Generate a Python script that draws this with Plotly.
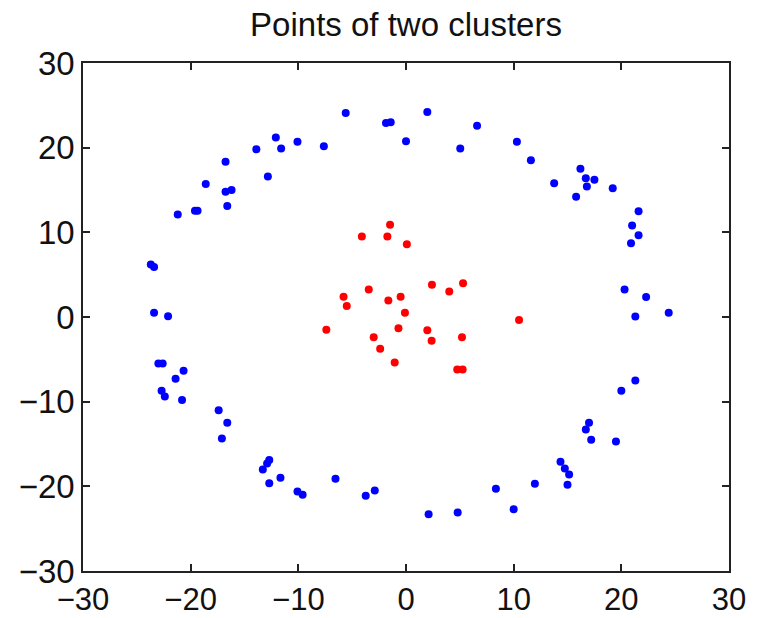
import plotly.graph_objects as go

# Outer cluster (blue)
blue_x = [-5.6, -1.86, -1.42, 0.0, -12.09, -13.9, -11.6, -10.08, -7.63, -16.76,
          -12.83, -18.6, -16.76, -16.2, -16.6, -21.2, -19.6, -19.36, -23.7, -23.4,
          -23.4, -22.1,
          1.98, 6.6, 5.04, 10.3, 11.6, 13.76, 16.2, 16.7, 17.5, 16.8,
          15.8, 19.2, 21.6, 21.0, 21.6, 20.9, 20.3, 22.3, 21.3, 24.4,
          -23.0, -22.6, -20.66, -21.4, -22.7, -22.4, -20.8, -17.4, -16.6, -17.1,
          -12.7, -12.9, -13.3, -12.7, -11.66, -10.08, -9.6, -6.55, -3.74, -2.9,
          21.3, 20.0, 17.0, 16.7, 17.2, 19.5, 14.35, 14.75, 15.15, 15.0,
          11.97, 8.35, 10.0, 2.1, 4.8]
blue_y = [24.1, 22.9, 23.0, 20.75, 21.2, 19.8, 19.9, 20.7, 20.16, 18.35,
          16.6, 15.7, 14.8, 15.0, 13.1, 12.1, 12.55, 12.55, 6.2, 5.9,
          0.5, 0.1,
          24.2, 22.6, 19.9, 20.7, 18.5, 15.8, 17.5, 16.4, 16.2, 15.4,
          14.2, 15.2, 12.5, 10.8, 9.65, 8.7, 3.26, 2.35, 0.05, 0.5,
          -5.5, -5.5, -6.35, -7.3, -8.7, -9.4, -9.8, -11.0, -12.5, -14.35,
          -16.9, -17.3, -18.0, -19.65, -19.0, -20.6, -21.0, -19.1, -21.1, -20.5,
          -7.5, -8.7, -12.5, -13.3, -14.5, -14.7, -17.1, -17.9, -18.6, -19.8,
          -19.7, -20.3, -22.7, -23.3, -23.1]

# Inner cluster (red)
red_x = [-1.48, -1.73, -4.1, 0.08, -3.46, -5.8, -5.5, -1.64, -0.5, -0.1,
         2.41, 4.02, 5.3, 10.5,
         -7.4, -3.0, -2.4, -1.05, -0.7,
         1.98, 2.38, 5.2, 4.76, 5.26]
red_y = [10.9, 9.5, 9.5, 8.6, 3.26, 2.4, 1.3, 1.96, 2.4, 0.5,
         3.8, 3.0, 4.0, -0.35,
         -1.5, -2.4, -3.76, -5.37, -1.33,
         -1.56, -2.8, -2.4, -6.2, -6.2]

tick_vals = [-30, -20, -10, 0, 10, 20, 30]

fig = go.Figure()
fig.add_trace(go.Scatter(x=blue_x, y=blue_y, mode="markers",
                         marker=dict(color="#0000FF", size=8, line=dict(width=0)),
                         showlegend=False))
fig.add_trace(go.Scatter(x=red_x, y=red_y, mode="markers",
                         marker=dict(color="#FF0000", size=8, line=dict(width=0)),
                         showlegend=False))

font_family = "Liberation Sans, Arial, sans-serif"
axis_common = dict(
    tickvals=tick_vals,
    showgrid=False, zeroline=False, automargin=False,
    showline=True, linecolor="#222222", linewidth=1.5,
    mirror="ticks", ticks="inside", ticklen=7, tickwidth=1.5, tickcolor="#222222",
)

fig.update_layout(
    width=757, height=618,
    paper_bgcolor="white", plot_bgcolor="white",
    margin=dict(l=83, r=28, t=63, b=47),
    title=dict(text="Points of two clusters", xref="paper", x=0.5, xanchor="center",
               yref="container", y=0.96, yanchor="middle",
               font=dict(family=font_family, size=33, color="#111111")),
    xaxis=dict(range=[-30, 30], tickfont=dict(family=font_family, size=31, color="#111111"),
               **axis_common),
    yaxis=dict(range=[-30, 30], tickfont=dict(family=font_family, size=33, color="#111111"),
               **axis_common),
)

fig.write_html("out.html")
